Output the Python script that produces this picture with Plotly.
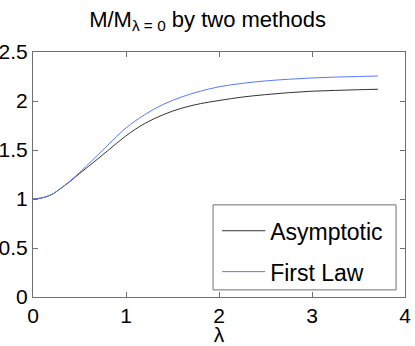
import plotly.graph_objects as go

# values
lam = [0.0, 0.1, 0.2, 0.3, 0.4, 0.5, 0.6, 0.8, 1.0, 1.2, 1.4, 1.6, 1.8, 2.0,
       2.25, 2.5, 2.75, 3.0, 3.25, 3.5, 3.71]
asymptotic = [1.0, 1.012, 1.045, 1.11, 1.18, 1.26, 1.335, 1.49, 1.645, 1.77, 1.86,
              1.927, 1.973, 2.005, 2.04, 2.065, 2.085, 2.10, 2.108, 2.115, 2.12]
first_law = [1.0, 1.012, 1.045, 1.11, 1.185, 1.27, 1.36, 1.545, 1.725, 1.86, 1.965,
             2.042, 2.10, 2.145, 2.18, 2.205, 2.222, 2.235, 2.244, 2.25, 2.255]

x_ticks = [0, 1, 2, 3, 4]
y_ticks = [0, 0.5, 1, 1.5, 2, 2.5]

_FONT = "Liberation Sans, Arial, sans-serif"
_AXIS = "#707070"

fig = go.Figure()
fig.add_trace(go.Scatter(
    x=lam, y=asymptotic, mode="lines", name="Asymptotic", legendgroup="a",
    line=dict(color="#333333", width=1, shape="spline"),
))
fig.add_trace(go.Scatter(
    x=lam, y=first_law, mode="lines", name="First Law", legendgroup="b",
    line=dict(color="#5a78ff", width=1, shape="spline"),
))

# legend frame (MATLAB style box, wider than plotly's own)
fig.add_shape(
    type="rect", xref="paper", yref="paper",
    x0=0.484, x1=0.976, y0=0.029, y1=0.376,
    line=dict(color=_AXIS, width=1), fillcolor="white", layer="above",
)

fig.update_layout(
    width=415, height=346,
    paper_bgcolor="white", plot_bgcolor="white",
    font=dict(family=_FONT, color="black", size=21),
    margin=dict(l=33, r=10, t=52, b=49),
    title=dict(
        text="M/M<sub>λ = 0</sub> by two methods",
        font=dict(size=22), x=0.5, xanchor="center", y=0.945, yanchor="middle",
    ),
    legend=dict(
        x=0.495, xanchor="left", y=0.358, yanchor="top",
        bgcolor="rgba(0,0,0,0)", borderwidth=0,
        font=dict(size=23), tracegroupgap=8, itemwidth=43,
    ),
)
fig.update_xaxes(
    range=[0, 4], tickvals=x_ticks, ticks="inside", ticklen=5, tickcolor=_AXIS,
    showline=True, linecolor=_AXIS, linewidth=1, mirror="ticks",
    showgrid=False, zeroline=False, automargin=False,
    title=dict(text="λ", standoff=2, font=dict(size=21)),
)
fig.update_yaxes(
    range=[0, 2.5], tickvals=y_ticks, ticks="inside", ticklen=5, tickcolor=_AXIS,
    showline=True, linecolor=_AXIS, linewidth=1, mirror="ticks",
    showgrid=False, zeroline=False, automargin=False,
)

# drop the browser's default 8px body margin so the figure sits at the corner
fig.write_html(
    "out.html",
    config={"displayModeBar": False},
    post_script="document.body.style.margin = '0px';",
)
